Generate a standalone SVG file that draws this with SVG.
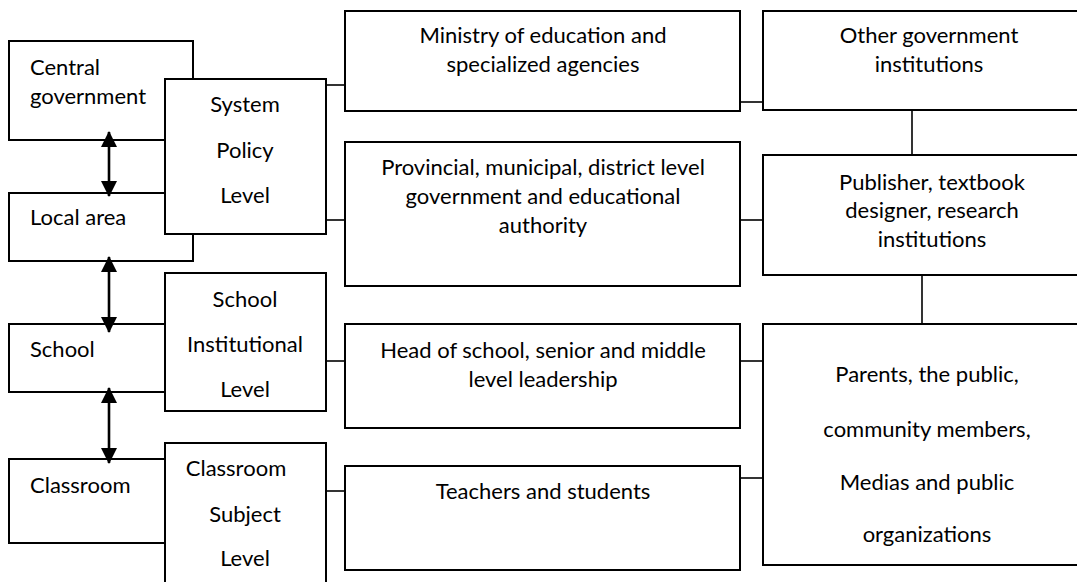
<svg xmlns="http://www.w3.org/2000/svg" width="1077" height="582" viewBox="0 0 1077 582">
<style>
  .box { fill: #ffffff; stroke: #000000; stroke-width: 2; }
  .t { font-family: Lato, "Open Sans", "Liberation Sans", sans-serif; font-size: 22px; fill: #000000; }
  .c { text-anchor: middle; }
  .conn { stroke: #000000; stroke-width: 1.6; fill: none; }
  .arr { stroke: #000000; stroke-width: 2.6; fill: none; marker-start: url(#ah); marker-end: url(#ah); }
</style>
<defs>
  <marker id="ah" markerUnits="userSpaceOnUse" markerWidth="16" markerHeight="16" viewBox="0 0 16 16" refX="15" refY="8" orient="auto-start-reverse">
    <path d="M0,0 L16,8 L0,16 z" fill="#000000"/>
  </marker>
</defs>
<rect width="1077" height="582" fill="#ffffff"/>

<g id="connectors">
  <line class="conn" x1="326" y1="85" x2="345" y2="85"/>
  <line class="conn" x1="326" y1="220" x2="345" y2="220"/>
  <line class="conn" x1="326" y1="361" x2="345" y2="361"/>
  <line class="conn" x1="326" y1="491" x2="345" y2="491"/>
  <line class="conn" x1="740" y1="102" x2="763" y2="102"/>
  <line class="conn" x1="740" y1="220" x2="763" y2="220"/>
  <line class="conn" x1="740" y1="361" x2="763" y2="361"/>
  <line class="conn" x1="740" y1="478" x2="763" y2="478"/>
  <line class="conn" x1="912" y1="110" x2="912" y2="155"/>
  <line class="conn" x1="922" y1="275" x2="922" y2="324"/>
</g>

<g id="central-government">
  <rect class="box" x="9" y="41" width="184" height="99"/>
  <text class="t" x="30" y="75">Central</text>
  <text class="t" x="30" y="104">government</text>
</g>
<g id="local-area">
  <rect class="box" x="9" y="193" width="184" height="68"/>
  <text class="t" x="30" y="225">Local area</text>
</g>
<g id="school">
  <rect class="box" x="9" y="324" width="184" height="68"/>
  <text class="t" x="30" y="357">School</text>
</g>
<g id="classroom">
  <rect class="box" x="9" y="459" width="184" height="84"/>
  <text class="t" x="30" y="493">Classroom</text>
</g>

<g id="arrows">
  <line class="arr" x1="109" y1="132" x2="109" y2="196"/>
  <line class="arr" x1="109" y1="257" x2="109" y2="332"/>
  <line class="arr" x1="109" y1="388" x2="109" y2="463"/>
</g>

<g id="system-policy-level">
  <rect class="box" x="165" y="79" width="161" height="155"/>
  <text class="t c" x="245" y="112">System</text>
  <text class="t c" x="245" y="158">Policy</text>
  <text class="t c" x="245" y="203">Level</text>
</g>
<g id="school-institutional-level">
  <rect class="box" x="165" y="273" width="161" height="138"/>
  <text class="t c" x="245" y="307">School</text>
  <text class="t c" x="245" y="352">Institutional</text>
  <text class="t c" x="245" y="397">Level</text>
</g>
<g id="classroom-subject-level">
  <rect class="box" x="165" y="443" width="161" height="160"/>
  <text class="t c" x="236" y="476">Classroom</text>
  <text class="t c" x="245" y="522">Subject</text>
  <text class="t c" x="245" y="566">Level</text>
</g>

<g id="ministry">
  <rect class="box" x="345" y="11" width="395" height="100"/>
  <text class="t c" x="543" y="43">Ministry of education and</text>
  <text class="t c" x="543" y="72">specialized agencies</text>
</g>
<g id="provincial">
  <rect class="box" x="345" y="142" width="395" height="144"/>
  <text class="t c" x="543" y="175">Provincial, municipal, district level</text>
  <text class="t c" x="543" y="204">government and educational</text>
  <text class="t c" x="543" y="233">authority</text>
</g>
<g id="head-of-school">
  <rect class="box" x="345" y="324" width="395" height="104"/>
  <text class="t c" x="543" y="358">Head of school, senior and middle</text>
  <text class="t c" x="543" y="387">level leadership</text>
</g>
<g id="teachers-students">
  <rect class="box" x="345" y="466" width="395" height="104"/>
  <text class="t c" x="543" y="499">Teachers and students</text>
</g>

<g id="other-government">
  <rect class="box" x="763" y="11" width="330" height="99"/>
  <text class="t c" x="929" y="43">Other government</text>
  <text class="t c" x="929" y="72">institutions</text>
</g>
<g id="publisher">
  <rect class="box" x="763" y="155" width="330" height="120"/>
  <text class="t c" x="932" y="190">Publisher, textbook</text>
  <text class="t c" x="932" y="218">designer, research</text>
  <text class="t c" x="932" y="247">institutions</text>
</g>
<g id="parents-public">
  <rect class="box" x="763" y="324" width="330" height="241"/>
  <text class="t c" x="927" y="382">Parents, the public,</text>
  <text class="t c" x="927" y="437">community members,</text>
  <text class="t c" x="927" y="490">Medias and public</text>
  <text class="t c" x="927" y="542">organizations</text>
</g>
</svg>
